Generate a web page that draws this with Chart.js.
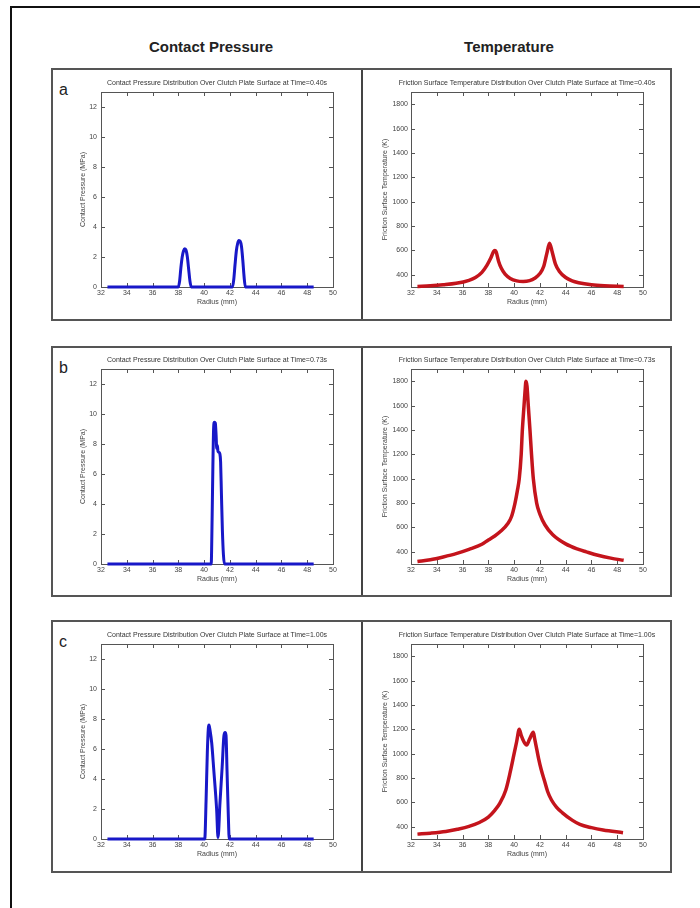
<!DOCTYPE html>
<html lang="en">
<head>
<meta charset="UTF-8" />
<title>Contact Pressure and Temperature</title>
<style>
  body { margin: 0; background: #fff; font-family: Arial, 'Liberation Sans', sans-serif; color: #222; }
  .page { position: relative; width: 700px; height: 908px; overflow: hidden; }
  .frame { position: absolute; left: 10px; top: 6px; width: 720px; height: 940px; border-left: 2px solid #111; border-top: 2px solid #111; }
  .heading { position: absolute; top: 38px; width: 240px; margin: 0; font-size: 15px; line-height: 18px; font-weight: bold; text-align: center; }
  .box { position: absolute; left: 51px; width: 621px; box-sizing: border-box; border: 2px solid #555; }
  .divider { position: absolute; left: 308px; top: 0; bottom: 0; width: 2px; background: #444; }
  .letter { position: absolute; left: 6px; font-size: 16px; line-height: 16px; }
  canvas { position: absolute; }
</style>
</head>
<body>
<div class="page">
  <div class="frame"></div>
  <div class="heading" style="left:91px">Contact Pressure</div>
  <div class="heading" style="left:389px">Temperature</div>

  <div class="box" style="top:68px;height:253px"><div class="divider"></div><div class="letter" style="top:12px">a</div></div>
  <div class="box" style="top:346px;height:251px"><div class="divider"></div><div class="letter" style="top:12px">b</div></div>
  <div class="box" style="top:620px;height:253px"><div class="divider"></div><div class="letter" style="top:12px">c</div></div>

  <canvas id="pa" width="309" height="251" style="left:52px;top:69px"></canvas>
  <canvas id="ta" width="310" height="251" style="left:361px;top:69px"></canvas>
  <canvas id="pb" width="309" height="251" style="left:52px;top:346px"></canvas>
  <canvas id="tb" width="310" height="251" style="left:361px;top:346px"></canvas>
  <canvas id="pc" width="309" height="251" style="left:52px;top:621px"></canvas>
  <canvas id="tc" width="310" height="251" style="left:361px;top:621px"></canvas>
</div>

<script src="https://cdn.jsdelivr.net/npm/chart.js"></script>
<script>
// tick labels
const radiusTicks = [32, 34, 36, 38, 40, 42, 44, 46, 48, 50];
const pressureTicks = [0, 2, 4, 6, 8, 10, 12];
const temperatureTicks = [400, 600, 800, 1000, 1200, 1400, 1600, 1800];

// contact pressure (MPa) vs radius (mm)
const radiusPA = [32.5, 38.0, 38.1, 38.2, 38.3, 38.4, 38.5, 38.6, 38.7, 38.8, 38.9, 39.0, 42.2, 42.3, 42.4, 42.5, 42.6, 42.7, 42.8, 42.9, 43.0, 43.1, 43.2, 48.5];
const pressureA = [0, 0, 0.4, 1.3, 2.0, 2.4, 2.55, 2.45, 2.0, 1.2, 0.4, 0, 0, 0.5, 1.5, 2.4, 2.9, 3.1, 3.05, 2.7, 1.8, 0.7, 0, 0];

const radiusPB = [32.5, 40.55, 40.62, 40.68, 40.74, 40.8, 40.87, 40.93, 40.98, 41.03, 41.08, 41.15, 41.22, 41.28, 41.34, 41.42, 41.5, 41.58, 48.5];
const pressureB = [0, 0, 3.0, 6.5, 9.1, 9.45, 9.4, 8.6, 7.7, 7.9, 7.5, 7.45, 7.35, 6.8, 4.8, 2.2, 0.6, 0, 0];

const radiusPC = [32.5, 40.05, 40.15, 40.25, 40.33, 40.38, 40.45, 40.59, 40.75, 40.97, 41.08, 41.23, 41.4, 41.54, 41.63, 41.7, 41.78, 41.88, 41.95, 48.5];
const pressureC = [0, 0, 2.5, 5.8, 7.4, 7.6, 7.3, 6.4, 4.6, 2.0, 0.1, 2.4, 4.8, 6.9, 7.1, 6.9, 4.5, 1.5, 0, 0];

// friction surface temperature (K) vs radius (mm)
const radiusTA = [32.5, 33.5, 34.5, 35.5, 36.5, 37.0, 37.5, 37.9, 38.2, 38.4, 38.5, 38.6, 38.8, 39.0, 39.3, 39.7, 40.2, 40.7, 41.2, 41.6, 42.0, 42.3, 42.55, 42.75, 42.95, 43.2, 43.5, 44.0, 44.5, 45.0, 46.0, 47.0, 48.5];
const temperatureA = [305, 310, 318, 330, 355, 378, 420, 480, 540, 590, 600, 590, 510, 455, 405, 370, 350, 345, 352, 372, 410, 470, 580, 660, 590, 490, 430, 378, 350, 335, 318, 310, 305];

const radiusTB = [32.5, 33.5, 34.5, 35.5, 36.5, 37.5, 38.0, 38.5, 39.0, 39.5, 39.8, 40.07, 40.25, 40.4, 40.55, 40.64, 40.77, 40.85, 40.92, 41.0, 41.1, 41.23, 41.35, 41.49, 41.75, 42.0, 42.4, 43.0, 44.0, 45.0, 45.6, 46.5, 47.5, 48.5];
const temperatureB = [320, 335, 358, 385, 420, 462, 497, 530, 572, 630, 690, 800, 900, 1000, 1200, 1400, 1600, 1720, 1800, 1760, 1600, 1400, 1200, 1000, 800, 710, 620, 540, 465, 420, 400, 372, 348, 330];

const radiusTC = [32.5, 33.5, 34.7, 35.6, 36.5, 37.3, 38.0, 38.5, 38.9, 39.35, 39.7, 40.0, 40.2, 40.4, 40.55, 40.75, 40.97, 41.2, 41.49, 41.6, 41.75, 41.9, 42.1, 42.35, 42.6, 42.9, 43.3, 43.75, 44.5, 45.1, 46.0, 46.9, 48.45];
const temperatureC = [340, 348, 362, 380, 403, 435, 480, 535, 595, 700, 850, 1000, 1100, 1200, 1150, 1100, 1071, 1120, 1175, 1120, 1040, 960, 870, 780, 690, 620, 560, 515, 455, 420, 393, 374, 352];

const FONT = "Arial, 'Liberation Sans', sans-serif";
const SIZE = 7;

// MATLAB-like box with inward ticks on all four sides
const boxTicks = {
  id: 'boxTicks',
  beforeDatasetsDraw(chart) {
    const { ctx, chartArea: a, scales: { x, y } } = chart;
    ctx.save();
    ctx.strokeStyle = '#555';
    ctx.lineWidth = 1;
    ctx.strokeRect(Math.round(a.left) + 0.5, Math.round(a.top) + 0.5, Math.round(a.right - a.left), Math.round(a.bottom - a.top));
    ctx.beginPath();
    x.ticks.forEach(t => {
      const px = Math.round(x.getPixelForValue(t.value)) + 0.5;
      ctx.moveTo(px, a.bottom); ctx.lineTo(px, a.bottom - 4);
      ctx.moveTo(px, a.top); ctx.lineTo(px, a.top + 4);
    });
    y.ticks.forEach(t => {
      const py = Math.round(y.getPixelForValue(t.value)) + 0.5;
      ctx.moveTo(a.left, py); ctx.lineTo(a.left + 4, py);
      ctx.moveTo(a.right, py); ctx.lineTo(a.right - 4, py);
    });
    ctx.stroke();
    ctx.restore();
  }
};

function panel(id, title, yTitle, yTicks, yMin, yMax, xs, ys, color, lineWidth, side) {
  const left = side === 'left';
  new Chart(document.getElementById(id), {
    type: 'line',
    data: {
      datasets: [{
        data: xs.map((x, i) => ({ x: x, y: ys[i] })),
        borderColor: color,
        borderWidth: lineWidth,
        pointRadius: 0,
        cubicInterpolationMode: 'monotone',
        clip: false,
        fill: false
      }]
    },
    options: {
      responsive: false,
      animation: false,
      events: [],
      layout: { padding: { left: left ? 21 : 22, right: 0, top: 0, bottom: 0 } },
      plugins: {
        legend: { display: false },
        tooltip: { enabled: false },
        title: {
          display: true, text: title, color: '#333',
          font: { family: FONT, size: SIZE, weight: 'normal' },
          padding: { top: 10.3, bottom: 4.3 }
        }
      },
      scales: {
        x: {
          type: 'linear', min: 32, max: 50,
          afterBuildTicks: s => { s.ticks = radiusTicks.map(v => ({ value: v })); },
          afterFit: s => { s.height = 33; },
          grid: { display: false, drawTicks: false },
          border: { display: false },
          ticks: { color: '#444', font: { family: FONT, size: SIZE }, padding: 2, maxRotation: 0, autoSkip: false, callback: v => String(v) },
          title: { display: true, text: 'Radius (mm)', color: '#444', font: { family: FONT, size: SIZE }, padding: { top: 0, bottom: 13.8 } }
        },
        y: {
          type: 'linear', min: yMin, max: yMax,
          afterBuildTicks: s => { s.ticks = yTicks.map(v => ({ value: v })); },
          afterFit: s => { s.width = 28; },
          grid: { display: false, drawTicks: false },
          border: { display: false },
          ticks: { color: '#444', font: { family: FONT, size: SIZE }, padding: left ? 4 : 3, autoSkip: false, callback: v => String(v) },
          title: { display: true, text: yTitle, color: '#444', font: { family: FONT, size: SIZE }, padding: { top: left ? 5.8 : -2.2, bottom: 0 } }
        },
        y2: {
          type: 'linear', position: 'right', min: yMin, max: yMax,
          afterFit: s => { s.width = 28; },
          grid: { display: false, drawTicks: false },
          border: { display: false },
          ticks: { display: false }
        }
      }
    },
    plugins: [boxTicks]
  });
}

const blue = '#1818c8';
const red = '#c4141c';
const pTitle = 'Contact Pressure Distribution Over Clutch Plate Surface at Time=';
const tTitle = 'Friction Surface Temperature Distribution Over Clutch Plate Surface at Time=';
const pLabel = 'Contact Pressure (MPa)';
const tLabel = 'Friction Surface Temperature (K)';

panel('pa', pTitle + '0.40s', pLabel, pressureTicks, 0, 13, radiusPA, pressureA, blue, 3, 'left');
panel('ta', tTitle + '0.40s', tLabel, temperatureTicks, 300, 1900, radiusTA, temperatureA, red, 3.5, 'right');
panel('pb', pTitle + '0.73s', pLabel, pressureTicks, 0, 13, radiusPB, pressureB, blue, 3, 'left');
panel('tb', tTitle + '0.73s', tLabel, temperatureTicks, 300, 1900, radiusTB, temperatureB, red, 3.5, 'right');
panel('pc', pTitle + '1.00s', pLabel, pressureTicks, 0, 13, radiusPC, pressureC, blue, 3, 'left');
panel('tc', tTitle + '1.00s', tLabel, temperatureTicks, 300, 1900, radiusTC, temperatureC, red, 3.5, 'right');
</script>
</body>
</html>
